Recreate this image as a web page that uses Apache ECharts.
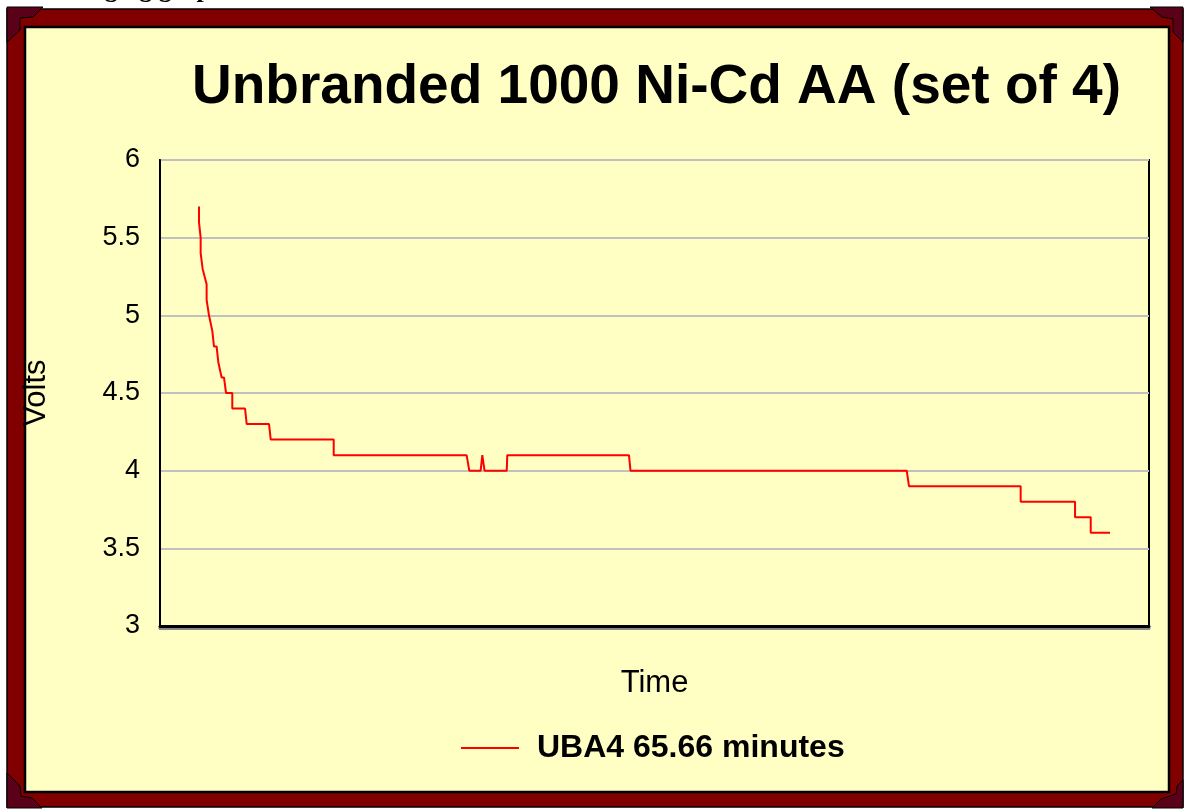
<!DOCTYPE html>
<html>
<head>
<meta charset="utf-8">
<script src="https://cdn.jsdelivr.net/npm/echarts@6/dist/echarts.min.js"></script>
<style>
  html, body { margin: 0; padding: 0; background: #fff; }
  #chart { width: 1184px; height: 809px; }
</style>
</head>
<body>
<div id="chart"></div>
<script>
// time in minutes, voltage of the set of 4 cells
var minutes = [0, 0, 0.12, 0.12, 0.26, 0.26, 0.38, 0.55, 0.55, 0.67, 0.72, 0.84, 0.96, 1.08, 1.27, 1.39,
  1.51, 1.63, 1.80, 1.95, 2.40, 2.40, 3.32, 3.44, 5.05, 5.17, 9.71, 9.71, 19.29, 19.48, 20.30, 20.42,
  20.50, 20.58, 22.18, 22.22, 30.99, 31.10, 51.01, 51.17, 59.22, 59.22, 63.14, 63.14, 64.27, 64.27, 65.66];
var volts = [5.7, 5.6, 5.5, 5.4, 5.4, 5.3, 5.3, 5.2, 5.1, 5.1, 5.0, 5.0, 4.9, 4.8, 4.8, 4.7,
  4.7, 4.6, 4.6, 4.5, 4.5, 4.4, 4.4, 4.3, 4.3, 4.2, 4.2, 4.1, 4.1, 4.0, 4.0, 4.1,
  4.1, 4.0, 4.0, 4.1, 4.1, 4.0, 4.0, 3.9, 3.9, 3.8, 3.8, 3.7, 3.7, 3.6, 3.6];
var yTicks = [3, 3.5, 4, 4.5, 5, 5.5, 6];
var seriesName = 'UBA4 65.66 minutes';

var pts = minutes.map(function (m, i) { return [m, volts[i]]; });

var myChart = echarts.init(document.getElementById('chart'));
var maroon = '#5a0018';
var option = {
  backgroundColor: '#ffffff',
  animation: false,
  title: {
    text: 'Unbranded 1000 Ni-Cd AA (set of 4)',
    left: 192,
    top: 60,
    padding: 0,
    textStyle: { fontFamily: 'Liberation Sans, Arial', fontWeight: 'bold', fontSize: 55, color: '#000' }
  },
  graphic: [
    { type: 'text', left: 18, top: -23, z: -20,
      style: { text: 'Discharging graph', font: 'bold 26px "Liberation Serif"', fill: '#000' } },
    { type: 'rect', z: -20, shape: { x: 7, y: 9, width: 1176, height: 798 },
      style: { fill: '#800000', stroke: '#000', lineWidth: 1.5 } },
    { type: 'polygon', z: -19, shape: { points: [[7, 7], [43, 7], [33, 17], [20, 18], [20, 30], [7, 42]] },
      style: { fill: maroon, stroke: '#000', lineWidth: 1 } },
    { type: 'polygon', z: -19, shape: { points: [[1150, 7], [1183, 7], [1183, 42], [1173, 32], [1173, 19], [1162, 17]] },
      style: { fill: maroon, stroke: '#000', lineWidth: 1 } },
    { type: 'polygon', z: -19, shape: { points: [[7, 773], [7, 808], [42, 808], [32, 798], [21, 796], [20, 786]] },
      style: { fill: maroon, stroke: '#000', lineWidth: 1 } },
    { type: 'polygon', z: -19, shape: { points: [[1183, 780], [1183, 808], [1152, 808], [1161, 799], [1176, 794], [1177, 786]] },
      style: { fill: maroon, stroke: '#000', lineWidth: 1 } },
    { type: 'rect', z: -18, shape: { x: 25, y: 27, width: 1144, height: 765 },
      style: { fill: '#ffffc4', stroke: '#000', lineWidth: 2.5 } }
  ],
  grid: {
    left: 160, top: 160, right: 35, height: 466,
    show: true, borderColor: '#000', borderWidth: 2, backgroundColor: 'transparent'
  },
  legend: {
    left: 456, top: 727,
    itemWidth: 58, itemHeight: 2, itemGap: 10,
    icon: 'rect',
    data: [{ name: seriesName, itemStyle: { color: '#ff0000' } }],
    textStyle: { fontFamily: 'Liberation Sans, Arial', fontWeight: 'bold', fontSize: 32, color: '#000', padding: [0, 0, 0, 13] }
  },
  xAxis: {
    type: 'value',
    min: -2.81, max: 68.47,
    name: 'Time',
    nameLocation: 'middle',
    nameGap: 42,
    nameTextStyle: { fontFamily: 'Liberation Sans, Arial', fontSize: 31, color: '#000' },
    axisLine: { onZero: false, lineStyle: { color: '#000', width: 3, shadowColor: '#888', shadowOffsetY: 2, shadowBlur: 0 } },
    axisTick: { show: false },
    axisLabel: { show: false },
    splitLine: { show: false }
  },
  yAxis: {
    type: 'value',
    min: yTicks[0], max: yTicks[yTicks.length - 1], interval: 0.5,
    name: 'Volts',
    nameLocation: 'middle',
    nameRotate: 90,
    nameGap: 108,
    nameTextStyle: { fontFamily: 'Liberation Sans, Arial', fontSize: 31, color: '#000' },
    axisLine: { show: true, onZero: false, lineStyle: { color: '#000', width: 2 } },
    axisTick: { show: false },
    axisLabel: {
      margin: 20, fontFamily: 'Liberation Sans, Arial', fontSize: 27, color: '#000',
      formatter: function (v) { return String(v); }
    },
    splitLine: { show: true, lineStyle: { color: '#c0c0c0', width: 2 } }
  },
  series: [{
    name: seriesName,
    type: 'line',
    data: pts,
    showSymbol: false,
    symbol: 'none',
    lineStyle: { color: '#ff0000', width: 2 },
    itemStyle: { color: '#ff0000' }
  }]
};
myChart.setOption(option);
</script>
</body>
</html>
